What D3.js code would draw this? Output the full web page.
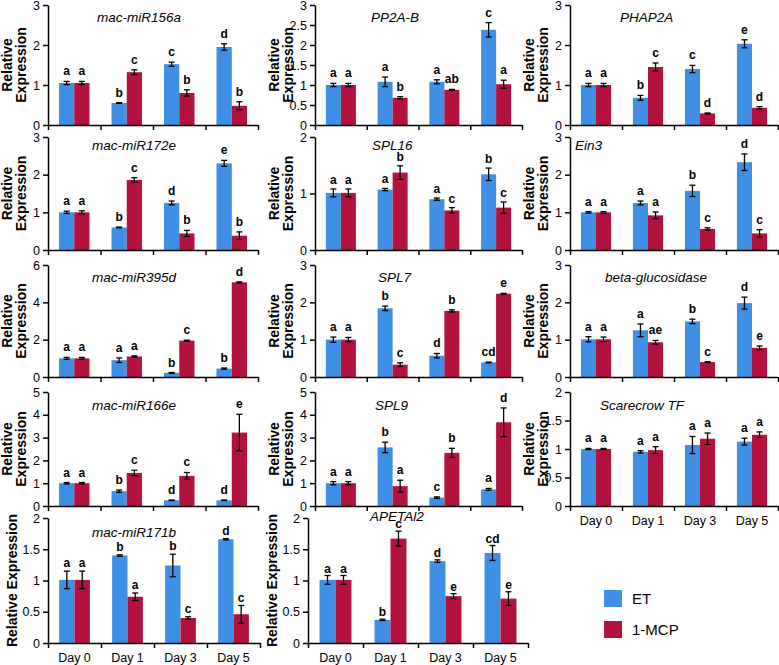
<!DOCTYPE html>
<html><head><meta charset="utf-8">
<script src="https://cdn.jsdelivr.net/npm/d3@7/dist/d3.min.js"></script>
<style>
body{margin:0;background:#fff;}
text{font-family:Arial,"Liberation Sans",sans-serif;}
</style></head>
<body><svg id="c" width="779" height="665"></svg>
<script>
const days = ["Day 0","Day 1","Day 3","Day 5"];
const seriesNames = ["ET","1-MCP"];
const genes = ["mac-miR156a","PP2A-B","PHAP2A","mac-miR172e","SPL16","Ein3","mac-miR395d","SPL7","beta-glucosidase","mac-miR166e","SPL9","Scarecrow TF","mac-miR171b","APETAl2"];
const yMax = [3,3,3,3,2,3,6,3,3,5,5,2,2,2];
const yStep = [1,0.5,1,1,1,1,2,1,1,1,1,0.5,0.5,0.5];
const etValues = [
  [1.05,0.55,1.52,1.95],[1.0,1.08,1.08,2.38],[1.0,0.68,1.40,2.03],
  [1.0,0.60,1.25,2.30],[1.01,1.07,0.90,1.34],[1.0,1.25,1.57,2.33],
  [1.0,0.90,0.22,0.45],[1.0,1.84,0.57,0.39],[1.01,1.25,1.49,1.98],
  [1.0,0.65,0.25,0.25],[1.0,2.57,0.37,0.73],[1.0,0.95,1.07,1.13],
  [1.01,1.40,1.24,1.66],[1.01,0.37,1.31,1.44]];
const etErrors = [
  [0.04,0.01,0.05,0.08],[0.04,0.12,0.05,0.18],[0.04,0.06,0.09,0.10],
  [0.03,0.01,0.05,0.08],[0.07,0.02,0.02,0.11],[0.02,0.05,0.15,0.22],
  [0.05,0.12,0.02,0.03],[0.07,0.06,0.06,0.01],[0.07,0.17,0.06,0.16],
  [0.03,0.05,0.01,0.01],[0.07,0.23,0.03,0.04],[0.01,0.02,0.15,0.06],
  [0.14,0.01,0.18,0.01],[0.07,0.01,0.02,0.12]];
const mcpValues = [
  [1.05,1.32,0.80,0.48],[1.0,0.68,0.88,1.02],[1.0,1.45,0.29,0.43],
  [1.0,1.86,0.44,0.38],[1.01,1.37,0.70,0.75],[1.0,0.92,0.56,0.44],
  [1.0,1.10,1.95,5.07],[1.0,0.33,1.77,2.23],[1.01,0.93,0.40,0.78],
  [1.0,1.45,1.32,3.22],[1.0,0.87,2.33,3.67],[1.0,0.98,1.18,1.25],
  [1.01,0.74,0.40,0.46],[1.01,1.67,0.75,0.71]];
const mcpErrors = [
  [0.04,0.06,0.08,0.10],[0.04,0.03,0.01,0.10],[0.04,0.10,0.01,0.03],
  [0.04,0.06,0.08,0.10],[0.07,0.12,0.05,0.10],[0.02,0.09,0.03,0.10],
  [0.05,0.03,0.02,0.03],[0.06,0.05,0.03,0.01],[0.06,0.05,0.01,0.05],
  [0.03,0.12,0.15,0.80],[0.07,0.26,0.20,0.63],[0.01,0.06,0.10,0.05],
  [0.14,0.06,0.02,0.14],[0.07,0.12,0.04,0.11]];
const etLetters = [
  ["a","b","c","d"],["a","a","a","c"],["a","b","c","e"],
  ["a","b","d","e"],["a","a","a","b"],["a","a","b","d"],
  ["a","a","b","b"],["a","b","d","cd"],["a","a","b","d"],
  ["a","b","d","d"],["a","b","c","a"],["a","a","a","a"],
  ["a","b","b","d"],["a","b","d","cd"]];
const mcpLetters = [
  ["a","c","b","b"],["a","b","ab","a"],["a","c","d","d"],
  ["a","c","b","b"],["a","b","c","c"],["a","a","c","c"],
  ["a","a","c","d"],["a","c","b","e"],["a","ae","c","e"],
  ["a","c","c","e"],["a","a","b","d"],["a","a","a","a"],
  ["a","a","c","c"],["a","c","e","e"]];

// layout (not data)
const colors = ["#3f8fe4","#b3123e"];
const rowY = [[5,125],[137,250],[265,377],[392,506],[518,643]];
const colX = [[48,258],[315,522],[570,778]];
const colXBottom = [[48,260],[308,528]];
const titleX = [97,371,620,92,372,575,92,378,605,92,375,600,92,370];
const titleBase = [22,22,22,150,150,150,282,282,282,410,410,410,537,521];
const letterGap = [6,6,6,6,5,6,6,6,6,6,6,6,4,3];
const showX = [false,false,false,false,false,false,false,false,false,false,false,true,true,true];

const svg = d3.select("#c");

genes.forEach((g,i)=>{
  const row = Math.floor(i/3), col = i%3;
  const [x0,x1] = row===4 ? colXBottom[col] : colX[col];
  const [yt,yz] = rowY[row];
  const y = d3.scaleLinear().domain([0,yMax[i]]).range([yz,yt]);
  const xb = d3.scaleBand().domain(days).range([x0,x1]);
  const xs = d3.scaleBand().domain(seriesNames).range([-xb.bandwidth()*0.29, xb.bandwidth()*0.29]);
  const gp = svg.append("g");

  days.forEach((d,j)=>{
    const vals=[etValues[i][j],mcpValues[i][j]];
    const errs=[etErrors[i][j],mcpErrors[i][j]];
    const lets=[etLetters[i][j],mcpLetters[i][j]];
    seriesNames.forEach((s,k)=>{
      const cx = xb(d)+xb.bandwidth()/2 + xs(s);
      const w = xs.bandwidth();
      gp.append("rect").attr("x",cx).attr("y",y(vals[k])).attr("width",w)
        .attr("height",yz-y(vals[k])).attr("fill",colors[k]);
      const mx = cx+w/2;
      const top=y(vals[k]+errs[k]), bot=y(Math.max(0,vals[k]-errs[k]));
      gp.append("line").attr("x1",mx).attr("x2",mx).attr("y1",top).attr("y2",bot).attr("stroke","#000").attr("stroke-width",1.3);
      [top,bot].forEach(yy=>gp.append("line").attr("x1",mx-3).attr("x2",mx+3).attr("y1",yy).attr("y2",yy).attr("stroke","#000").attr("stroke-width",1.3));
      gp.append("text").attr("x",mx).attr("y",top-letterGap[i]).attr("text-anchor","middle")
        .attr("font-size",12).attr("font-weight","bold").text(lets[k]);
    });
  });

  const ticks = d3.range(0,yMax[i]+yStep[i]/2,yStep[i]);
  const ya = gp.append("g").attr("transform",`translate(${x0},0)`)
    .call(d3.axisLeft(y).tickValues(ticks).tickSize(5).tickSizeOuter(0).tickFormat(d3.format("~g")));
  ya.selectAll("path,line").attr("stroke","#000").attr("stroke-width",1.5);
  ya.selectAll("text").attr("font-size",12.5).attr("font-family","Arial,'Liberation Sans',sans-serif").attr("fill","#000");

  const xl = d3.scaleLinear().domain([0,4]).range([x0,x1]);
  const xa = gp.append("g").attr("transform",`translate(0,${yz})`)
    .call(d3.axisBottom(xl).tickValues([0,1,2,3,4]).tickSize(5).tickSizeOuter(0).tickFormat(""));
  xa.selectAll("path,line").attr("stroke","#000").attr("stroke-width",1.5);
  if(showX[i]){
    days.forEach(d=>gp.append("text").attr("x",xb(d)+xb.bandwidth()/2).attr("y",yz+19)
      .attr("text-anchor","middle").attr("font-size",12.5).text(d));
  }

  gp.append("text").attr("x",titleX[i]).attr("y",titleBase[i]).attr("font-size",13.5)
    .attr("font-style","italic").text(g);

  const ym = (yt+yz)/2;
  if(row<4){
    gp.append("text").attr("transform",`translate(${x0-36},${ym}) rotate(-90)`)
      .attr("text-anchor","middle").attr("font-size",14).attr("font-weight","bold").text("Relative");
    gp.append("text").attr("transform",`translate(${x0-22},${ym}) rotate(-90)`)
      .attr("text-anchor","middle").attr("font-size",14).attr("font-weight","bold").text("Expression");
  } else {
    gp.append("text").attr("transform",`translate(${x0-31},${ym}) rotate(-90)`)
      .attr("text-anchor","middle").attr("font-size",14).attr("font-weight","bold").text("Relative Expression");
  }
});

const lg = svg.append("g");
seriesNames.forEach((s,k)=>{
  lg.append("rect").attr("x",604).attr("y",590+k*31).attr("width",18).attr("height",17).attr("fill",colors[k]);
  lg.append("text").attr("x",632).attr("y",604+k*31).attr("font-size",15).text(s);
});
</script></body></html>
